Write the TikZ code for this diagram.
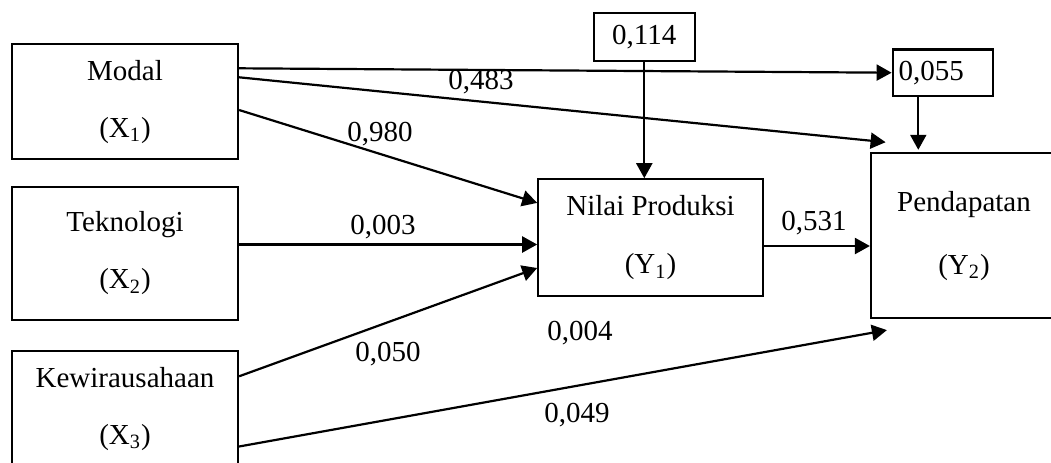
\documentclass[tikz,border=0pt]{standalone}
\usepackage{fontspec}
\setmainfont{Liberation Serif}
\usetikzlibrary{arrows.meta,calc}

\begin{document}
\begin{tikzpicture}[x=0.5pt,y=-0.5pt]
        \tikzset{var/.style = {shape=rectangle,draw,line width=1.1pt,align=center,inner sep=0pt,font=\fontsize{14.5}{28.5}\selectfont}};
        \tikzset{edge/.style = {-{Triangle[length=7.5pt,width=8pt]},line width=1.1pt}};
        \tikzset{weight/.style = {inner sep=0pt,font=\fontsize{14.5}{17}\selectfont}};
        \useasboundingbox (0,0) rectangle (1051,462);
        \clip (0,0) rectangle (1051,462);
        \node[var,minimum width=113pt,minimum height=57.6pt] (modal) at (125,101.7) {Modal\\(X\textsubscript{1})};
        \node[var,minimum width=113pt,minimum height=66.7pt] (tekno) at (125,253.3) {Teknologi\\(X\textsubscript{2})};
        \node[var,minimum width=113pt,minimum height=57.6pt] (kewir) at (125,408.8) {Kewirausahaan\\(X\textsubscript{3})};
        \node[var,minimum width=112.2pt,minimum height=58.2pt] (nilai) at (650.5,237.5) {Nilai Produksi\\[0.8pt](Y\textsubscript{1})};
        \node[var,minimum width=93pt,minimum height=82.5pt] (pend) at (964,235.8) {Pendapatan\\[2.8pt](Y\textsubscript{2})};
        \node[var,minimum width=50.3pt,minimum height=23.7pt] (e114) at (644.3,37) {0,114};
        \node[var,minimum height=23.3pt,text width=44.3pt,inner xsep=3pt,align=left] (e055) at (943,72.7) {0,055};
        \node[weight] (w483) at (481,82) {0,483};
        \node[weight] (w980) at (380,134) {0,980};
        \node[weight] (w003) at (383,227) {0,003};
        \node[weight] (w050) at (388,354) {0,050};
        \node[weight] (w004) at (580,333) {0,004};
        \node[weight] (w049) at (577,415) {0,049};
        \node[weight] (w531) at (814,223) {0,531};
        \draw[edge] ($(modal.north east)+(0,25.3)$) to (e055.west);
        \draw[edge] ($(modal.north east)+(0,34.3)$) to ($(pend.north west)+(15.7,-10)$);
        \draw[edge] ($(modal.north east)+(0,67)$) to ($(nilai.north west)+(0,24.7)$);
        \draw[edge] ($(tekno.east)+(0,-8.8)$) to ($(nilai.west)+(0,7)$);
        \draw[edge] ($(kewir.north east)+(0,26.2)$) to ($(nilai.west)+(0,30.5)$);
        \draw[edge] ($(kewir.north east)+(0,96.4)$) to ($(pend.south west)+(17,10.7)$);
        \draw[edge] (e114.south) to (e114.south |- nilai.north);
        \draw[edge,shorten >=1.2pt] ($(e055.south)+(-24.7,0)$) coordinate (s055) to (s055 |- pend.north);
        \draw[edge] ($(nilai.east)+(0,8.5)$) coordinate (s531) to (s531 -| pend.west);
    \end{tikzpicture}
\end{document}
